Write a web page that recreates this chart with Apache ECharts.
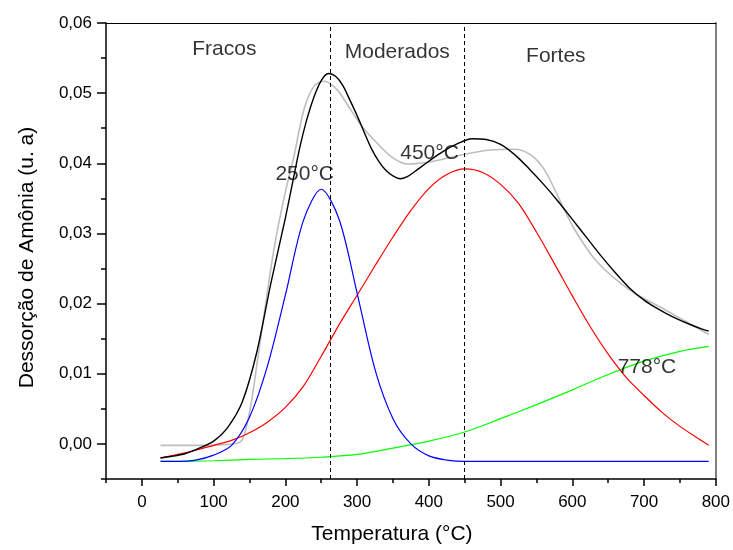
<!DOCTYPE html>
<html>
<head>
<meta charset="utf-8">
<script src="https://cdn.jsdelivr.net/npm/echarts@6/dist/echarts.min.js"></script>
<style>
  html, body { margin: 0; padding: 0; background: #fff; }
  #root { width: 733px; height: 550px; }
</style>
</head>
<body>
<div id="root"></div>
<script>
// ticks
const xTicks = [0, 100, 200, 300, 400, 500, 600, 700, 800]
const xMinor = [-50, 50, 150, 250, 350, 450, 550, 650, 750]
const yTicks = [0, 0.01, 0.02, 0.03, 0.04, 0.05, 0.06]
const yMinor = [-0.005, 0.005, 0.015, 0.025, 0.035, 0.045, 0.055]

// experimental curve (gray)
const experimental = [
  [26, -0.0002], [80, -0.0002], [128, 0.0000], [140, 0.0006], [151, 0.0050],
  [160, 0.0111], [170, 0.0182], [184, 0.0277], [198, 0.0350], [212, 0.0410],
  [226, 0.0477], [240, 0.0510], [254, 0.0517], [272, 0.0505], [290, 0.0478],
  [305, 0.0455], [323, 0.0434], [347, 0.0410], [370, 0.0399], [407, 0.0403],
  [450, 0.0413], [486, 0.0419], [519, 0.0420], [542, 0.0412], [561, 0.0391],
  [580, 0.0353], [603, 0.0306], [635, 0.0259], [682, 0.0218], [728, 0.0192],
  [790, 0.0156]
]
// sum of fitted peaks (black)
const fitTotal = [
  [26, -0.0020], [40, -0.0018], [60, -0.0014], [80, -0.0006], [100, 0.0004],
  [120, 0.0024], [140, 0.0060], [160, 0.0130], [180, 0.0230], [200, 0.0322],
  [210, 0.0372], [220, 0.0422], [230, 0.0463], [240, 0.0495], [250, 0.0518],
  [260, 0.0528], [270, 0.0524], [280, 0.0511], [290, 0.0490], [300, 0.0468],
  [310, 0.0444], [320, 0.0421], [330, 0.0403], [340, 0.0390], [350, 0.0382],
  [360, 0.0378], [370, 0.0381], [380, 0.0388], [400, 0.0403], [420, 0.0417],
  [440, 0.0428], [460, 0.0435], [480, 0.0434], [500, 0.0427], [520, 0.0412],
  [540, 0.0392], [560, 0.0370], [580, 0.0346], [600, 0.0320], [620, 0.0294],
  [640, 0.0268], [660, 0.0244], [680, 0.0222], [700, 0.0205], [720, 0.0192],
  [740, 0.0181], [760, 0.0172], [780, 0.0164], [790, 0.0161]
]
// peak 250 °C (blue)
const peakWeak = [
  [26, -0.0025], [50, -0.0025], [75, -0.0023], [100, -0.0016], [125, -0.0002],
  [150, 0.0038], [175, 0.0111], [200, 0.0212], [225, 0.0318], [250, 0.0363],
  [275, 0.0320], [300, 0.0215], [325, 0.0106], [350, 0.0036], [375, 0.0000],
  [400, -0.0017], [425, -0.0023], [450, -0.0025], [475, -0.0025], [500, -0.0025],
  [550, -0.0025], [600, -0.0025], [650, -0.0025], [700, -0.0025], [750, -0.0025],
  [790, -0.0025]
]
// peak 450 °C (red)
const peakModerate = [
  [26, -0.0020], [50, -0.0015], [75, -0.0009], [100, -0.0002], [125, 0.0005],
  [150, 0.0016], [175, 0.0031], [200, 0.0052], [225, 0.0082], [250, 0.0125],
  [275, 0.0170], [300, 0.0212], [325, 0.0254], [350, 0.0295], [375, 0.0333],
  [400, 0.0364], [425, 0.0384], [450, 0.0392], [475, 0.0387], [500, 0.0370],
  [525, 0.0343], [550, 0.0302], [575, 0.0257], [600, 0.0211], [625, 0.0167],
  [650, 0.0128], [675, 0.0095], [700, 0.0069], [725, 0.0045], [750, 0.0025],
  [775, 0.0008], [790, -0.0002]
]
// peak 778 °C (green)
const peakStrong = [
  [26, -0.0025], [50, -0.0025], [100, -0.0024], [150, -0.0022], [200, -0.0021],
  [250, -0.0019], [300, -0.0015], [350, -0.0006], [400, 0.0004], [450, 0.0017],
  [500, 0.0036], [550, 0.0056], [600, 0.0077], [650, 0.0099], [700, 0.0118],
  [750, 0.0132], [790, 0.0139]
]

const dividers = [263, 450]
const regionLabels = ['Fracos', 'Moderados', 'Fortes']
const regionX = [115, 356, 577]
const regionY = [0.0562, 0.0558, 0.0553]
const peakLabels = ['250°C', '450°C', '778°C']
const peakX = [227, 401, 704]
const peakY = [0.0384, 0.0414, 0.0110]

const font = 'Liberation Sans, Arial, sans-serif'
const comma = v => v.toFixed(2).replace('.', ',')

const annotations = []
regionLabels.forEach((t, i) => annotations.push({ name: t, value: [regionX[i], regionY[i]] }))
peakLabels.forEach((t, i) => annotations.push({ name: t, value: [peakX[i], peakY[i]] }))

const curve = (data, color, width) => ({
  type: 'line',
  data: data,
  smooth: 0.3,
  showSymbol: false,
  silent: true,
  lineStyle: { color: color, width: width },
  z: 3
})

const chart = echarts.init(document.getElementById('root'))
const option = {
  animation: false,
  grid: { left: 106, right: 16, top: 23, bottom: 70 },
  xAxis: [
    {
      type: 'value', min: -50, max: 800, position: 'bottom',
      name: 'Temperatura (°C)', nameLocation: 'middle', nameGap: 45,
      nameTextStyle: { fontFamily: font, fontSize: 21, color: '#000', padding: [0, 38, 0, 0] },
      axisLine: { onZero: false, lineStyle: { color: '#000', width: 1.5 } },
      axisTick: { customValues: xTicks, length: 7, lineStyle: { color: '#000', width: 1.5 } },
      axisLabel: { customValues: xTicks, margin: 15, fontFamily: font, fontSize: 17, color: '#000' },
      splitLine: { show: false }
    },
    {
      type: 'value', min: -50, max: 800, position: 'bottom',
      axisLine: { show: false, onZero: false },
      axisTick: { customValues: xMinor, length: 4, lineStyle: { color: '#000', width: 1.5 } },
      axisLabel: { show: false },
      splitLine: { show: false }
    },
    {
      type: 'value', min: -50, max: 800, position: 'top',
      axisLine: { onZero: false, lineStyle: { color: '#000', width: 1 } },
      axisTick: { show: false }, axisLabel: { show: false }, splitLine: { show: false }
    }
  ],
  yAxis: [
    {
      type: 'value', min: -0.005, max: 0.06, position: 'left',
      name: 'Dessorção de Amônia (u. a)', nameLocation: 'middle', nameGap: 68,
      nameTextStyle: { fontFamily: font, fontSize: 21, color: '#000', padding: [0, 13, 0, 0] },
      axisLine: { show: true, onZero: false, lineStyle: { color: '#000', width: 1.5 } },
      axisTick: { show: true, customValues: yTicks, length: 9, lineStyle: { color: '#000', width: 1.5 } },
      axisLabel: { customValues: yTicks, margin: 14, formatter: comma, fontFamily: font, fontSize: 17, color: '#000' },
      splitLine: { show: false }
    },
    {
      type: 'value', min: -0.005, max: 0.06, position: 'left',
      axisLine: { show: false, onZero: false },
      axisTick: { show: true, customValues: yMinor, length: 5, lineStyle: { color: '#000', width: 1.5 } },
      axisLabel: { show: false },
      splitLine: { show: false }
    },
    {
      type: 'value', min: -0.005, max: 0.06, position: 'right',
      axisLine: { show: true, onZero: false, lineStyle: { color: '#808080', width: 2 } },
      axisTick: { show: false }, axisLabel: { show: false }, splitLine: { show: false }
    }
  ],
  series: [
    Object.assign(curve(experimental, '#bdbdbd', 1.6), {
      markLine: {
        silent: true,
        symbol: 'none',
        label: { show: false },
        lineStyle: { color: '#000', type: [4, 3], width: 1 },
        data: dividers.map(v => ({ xAxis: v }))
      }
    }),
    curve(peakStrong, '#00ff00', 1.2),
    curve(peakModerate, '#ff0000', 1.2),
    curve(peakWeak, '#0000ff', 1.2),
    curve(fitTotal, '#000000', 1.4),
    {
      type: 'scatter',
      data: annotations,
      symbolSize: 1,
      silent: true,
      itemStyle: { color: 'rgba(0,0,0,0)' },
      label: {
        show: true, position: 'inside', formatter: p => p.name,
        fontFamily: font, fontSize: 21, color: '#000', textBorderWidth: 0
      },
      z: 5
    }
  ]
}
chart.setOption(option)
</script>
</body>
</html>
